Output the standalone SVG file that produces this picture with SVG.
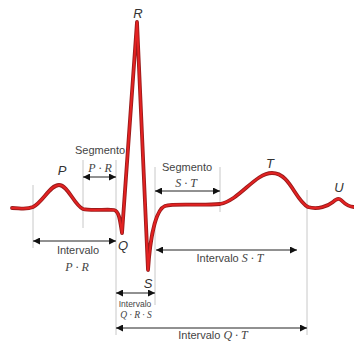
<svg xmlns="http://www.w3.org/2000/svg" width="354" height="342" viewBox="0 0 354 342">
<defs>
<marker id="ah" viewBox="0 0 10 10" refX="10" refY="5" markerWidth="7" markerHeight="7" markerUnits="userSpaceOnUse" orient="auto-start-reverse">
<path d="M0,0 L10,5 L0,10 z" fill="#111"/>
</marker>
<style>
.g{stroke:#c8c8c8;stroke-width:1;fill:none}
.a{stroke:#222;stroke-width:1;fill:none;marker-start:url(#ah);marker-end:url(#ah)}
.lbl{font-family:"Liberation Sans",Arial,sans-serif;font-style:italic;font-size:13px;fill:#333;text-anchor:middle}
.t{font-family:"Liberation Sans",Arial,sans-serif;font-size:11px;fill:#444;text-anchor:middle}
.m{font-family:"Liberation Serif","Times New Roman",serif;font-style:italic;font-size:12px;fill:#444;text-anchor:middle}
</style>
</defs>
<rect width="354" height="342" fill="#fff"/>
<g id="guides">
<line class="g" x1="33" y1="185" x2="33" y2="248"/>
<line class="g" x1="83" y1="160" x2="83" y2="228"/>
<line class="g" x1="116" y1="160" x2="116" y2="335"/>
<line class="g" x1="155" y1="167" x2="155" y2="305"/>
<line class="g" x1="220" y1="167" x2="220" y2="212"/>
<line class="g" x1="307" y1="190" x2="307" y2="335"/>
</g>
<g id="ecg">
<path d="M12,208 C20,208 26,210 33,207 C43,202 50,185 59,185 C68,185 74,205 83,209 C90,211 108,209 114,210 C119,211 120,220 122,233 L137,22 L148,270 C150,240 155,210 165,206 C175,203 200,206 220,204 C240,200 255,173 272,173 C290,173 295,200 308,207 C318,210 328,206 333,202 C336,199 339,198 341,200 C345,204 350,207 354,207" fill="none" stroke="#9a1b1b" stroke-width="3.8" stroke-linejoin="round" stroke-linecap="round"/>
<path d="M12,208 C20,208 26,210 33,207 C43,202 50,185 59,185 C68,185 74,205 83,209 C90,211 108,209 114,210 C119,211 120,220 122,233 L137,22 L148,270 C150,240 155,210 165,206 C175,203 200,206 220,204 C240,200 255,173 272,173 C290,173 295,200 308,207 C318,210 328,206 333,202 C336,199 339,198 341,200 C345,204 350,207 354,207" fill="none" stroke="#e32222" stroke-width="2" stroke-linejoin="round" stroke-linecap="round"/>
</g>
<g id="wave-labels">
<text class="lbl" x="138" y="18">R</text>
<text class="lbl" x="62" y="175">P</text>
<text class="lbl" x="123" y="250">Q</text>
<text class="lbl" x="148" y="288">S</text>
<text class="lbl" x="270" y="168">T</text>
<text class="lbl" x="339" y="192">U</text>
</g>
<g id="connectors">
<line class="a" x1="83" y1="177" x2="116" y2="177"/>
<line class="a" x1="155" y1="191" x2="220" y2="191"/>
<line class="a" x1="33" y1="241" x2="116" y2="241"/>
<line class="a" x1="156" y1="250" x2="297" y2="250"/>
<line class="a" x1="116" y1="293" x2="155" y2="293"/>
<line class="a" x1="116" y1="328" x2="307" y2="328"/>
</g>
<g id="seg-pr">
<text class="t" x="100" y="154">Segmento</text>
<text class="m" x="100" y="172">P · R</text>
</g>
<g id="seg-st">
<text class="t" x="187" y="171">Segmento</text>
<text class="m" x="186" y="187">S · T</text>
</g>
<g id="int-pr">
<text class="t" x="78" y="254">Intervalo</text>
<text class="m" x="77" y="271">P · R</text>
</g>
<g id="int-st">
<text class="t" x="230" y="262">Intervalo <tspan class="m" style="font-size:12px">S · T</tspan></text>
</g>
<g id="int-qrs">
<text class="t" x="135" y="307" style="font-size:8.5px">Intervalo</text>
<text class="m" x="136" y="318" style="font-size:9.5px">Q · R · S</text>
</g>
<g id="int-qt">
<text class="t" x="213" y="339">Intervalo <tspan class="m" style="font-size:12px">Q · T</tspan></text>
</g>
</svg>
